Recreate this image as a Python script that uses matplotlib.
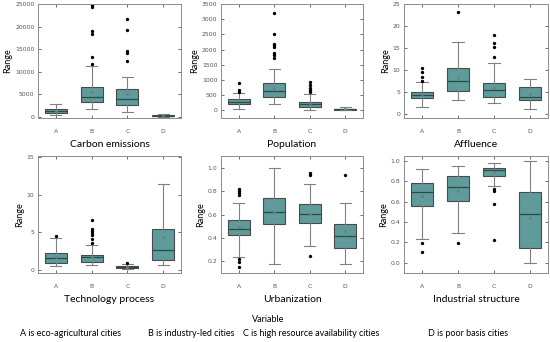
#!/usr/bin/env python3

import matplotlib
matplotlib.use("Agg")
import matplotlib.pyplot as plt


GROUPS = ["A", "B", "C", "D"]
PANEL_TITLES = [
    "Carbon emissions", "Population", "Affluence",
    "Technology process", "Urbanization", "Industrial structure",
]
LEGEND_TEXTS = [
    "A is eco-agricultural cities",
    "B is industry-led cities",
    "C is high resource availability cities",
    "D is poor basis cities",
]

# per panel, per group: (whislo, q1, med, q3, whishi, mean)
CARBON_STATS = [
    (400, 700, 1300, 1800, 2700, 1300),
    (1800, 3200, 4400, 6500, 11200, 5500),
    (1100, 2600, 4000, 6200, 8700, 5100),
    (0, 100, 200, 350, 600, 250),
]
CARBON_FLIERS = [
    [],
    [24800, 24400, 19000, 18400, 13300, 11700],
    [21600, 19200, 14600, 14100, 12300],
    [],
]
POPULATION_STATS = [
    (55, 210, 275, 360, 580, 330),
    (220, 440, 640, 900, 1375, 740),
    (20, 110, 220, 290, 530, 240),
    (0, 5, 35, 55, 110, 40),
]
POPULATION_FLIERS = [
    [900, 660, 620],
    [3210, 2500, 2200, 2150, 2070, 1890, 1815, 1740],
    [935, 825, 750, 680, 600],
    [],
]
AFFLUENCE_STATS = [
    (1.6, 3.5, 4.2, 5.0, 7.1, 4.5),
    (3.0, 5.2, 7.35, 10.4, 16.4, 8.2),
    (2.5, 3.9, 5.3, 7.0, 11.5, 5.9),
    (1.0, 3.2, 3.9, 6.05, 7.9, 4.5),
]
AFFLUENCE_FLIERS = [
    [10.4, 9.5, 8.4, 7.4],
    [23.2],
    [17.9, 16.1, 15.1, 12.8],
    [],
]
TECHNOLOGY_STATS = [
    (0.55, 0.85, 1.6, 2.2, 4.2, 1.75),
    (0.6, 1.0, 1.65, 1.95, 3.35, 1.7),
    (0.1, 0.22, 0.35, 0.45, 0.7, 0.35),
    (0.6, 1.3, 2.65, 5.45, 11.45, 4.35),
]
TECHNOLOGY_FLIERS = [
    [4.45],
    [6.6, 5.5, 5.2, 4.85, 4.6, 4.1, 3.5],
    [0.85],
    [],
]
URBANIZATION_STATS = [
    (0.241, 0.423, 0.473, 0.552, 0.70, 0.49),
    (0.174, 0.516, 0.625, 0.742, 0.994, 0.625),
    (0.332, 0.525, 0.604, 0.686, 0.862, 0.605),
    (0.174, 0.311, 0.417, 0.516, 0.70, 0.455),
]
URBANIZATION_FLIERS = [
    [0.815, 0.798, 0.78, 0.768, 0.218, 0.194, 0.153],
    [],
    [0.956, 0.941, 0.247],
    [0.938],
]
INDUSTRY_STATS = [
    (0.233, 0.556, 0.70, 0.78, 0.92, 0.66),
    (0.295, 0.608, 0.747, 0.85, 0.948, 0.71),
    (0.76, 0.858, 0.91, 0.931, 0.983, 0.89),
    (0.0, 0.146, 0.476, 0.70, 1.0, 0.44),
]
INDUSTRY_FLIERS = [
    [0.198, 0.111],
    [0.19],
    [0.73, 0.71, 0.58, 0.22],
    [],
]

PANEL_STATS = [CARBON_STATS, POPULATION_STATS, AFFLUENCE_STATS,
               TECHNOLOGY_STATS, URBANIZATION_STATS, INDUSTRY_STATS]
PANEL_FLIERS = [CARBON_FLIERS, POPULATION_FLIERS, AFFLUENCE_FLIERS,
                TECHNOLOGY_FLIERS, URBANIZATION_FLIERS, INDUSTRY_FLIERS]
PANEL_YLIMS = [(-300, 25000), (-250, 3500), (-1, 25),
               (-0.45, 15.2), (0.1, 1.1), (-0.1, 1.05)]
PANEL_YTICKS = [
    [0, 5000, 10000, 15000, 20000, 25000],
    [0, 500, 1000, 1500, 2000, 2500, 3000, 3500],
    [0, 5, 10, 15, 20, 25],
    [0, 5, 10, 15],
    [0.2, 0.4, 0.6, 0.8, 1.0],
    [0, 0.2, 0.4, 0.6, 0.8, 1.0],
]

FIG_W, FIG_H = 550, 342
COLUMNS_PX = [(38, 181), (221, 363), (404, 548)]
ROWS_PX = [(4, 118), (156, 273)]
BOX_COLOR = "#5f9b9b"
EDGE_COLOR = "#4a4a4a"
WHISKER_COLOR = "#808080"
SPINE_COLOR = "#8c8c8c"
FONT = "Lato"


def box_stats(stats, fliers):
    result = []
    for label, (lo, q1, med, q3, hi, mean), out in zip(GROUPS, stats, fliers):
        result.append({
            "label": label, "whislo": lo, "q1": q1, "med": med,
            "q3": q3, "whishi": hi, "mean": mean, "fliers": out,
        })
    return result


def draw_panel(ax, index):
    ax.bxp(
        box_stats(PANEL_STATS[index], PANEL_FLIERS[index]),
        widths=0.62,
        patch_artist=True,
        showmeans=True,
        boxprops={"facecolor": BOX_COLOR, "edgecolor": EDGE_COLOR, "linewidth": 0.8},
        medianprops={"color": "#2b4a4a", "linewidth": 0.9},
        whiskerprops={"color": WHISKER_COLOR, "linewidth": 0.8},
        capprops={"color": WHISKER_COLOR, "linewidth": 0.8},
        flierprops={"marker": "o", "markersize": 1.4, "markerfacecolor": "black",
                    "markeredgecolor": "black"},
        meanprops={"marker": "s", "markersize": 1.0, "markerfacecolor": "#6a7f7f",
                   "markeredgecolor": "#6a7f7f"},
    )
    ax.set_xlim(0.5, 4.5)
    ax.set_ylim(*PANEL_YLIMS[index])
    ax.set_yticks(PANEL_YTICKS[index])
    ax.tick_params(direction="in", length=2, width=0.6, colors="#555555",
                   labelsize=4.4, top=True, right=True, pad=2.5)
    ax.tick_params(axis="x", pad=8)
    for spine in ax.spines.values():
        spine.set_color(SPINE_COLOR)
        spine.set_linewidth(0.7)
    ax.set_ylabel("Range", fontsize=6.5, family=FONT, labelpad=2)
    ax.set_xlabel(PANEL_TITLES[index], fontsize=7.5, family=FONT, labelpad=4)


def main() -> int:
    fig = plt.figure(figsize=(FIG_W / 100, FIG_H / 100), dpi=100)
    for index in range(6):
        left_px, right_px = COLUMNS_PX[index % 3]
        top_px, bottom_px = ROWS_PX[index // 3]
        ax = fig.add_axes([
            left_px / FIG_W, 1 - bottom_px / FIG_H,
            (right_px - left_px) / FIG_W, (bottom_px - top_px) / FIG_H,
        ])
        draw_panel(ax, index)

    fig.text(268 / FIG_W, 1 - 320 / FIG_H, "Variable", ha="center", va="center",
             fontsize=6.5, family=FONT)
    for center_px, text in zip([71, 191, 311, 468], LEGEND_TEXTS):
        fig.text(center_px / FIG_W, 1 - 333 / FIG_H, text, ha="center",
                 va="center", fontsize=6.5, family=FONT)
    fig.savefig("out.png", dpi=100)
    return 0


if __name__ == "__main__":
    raise SystemExit(main())
